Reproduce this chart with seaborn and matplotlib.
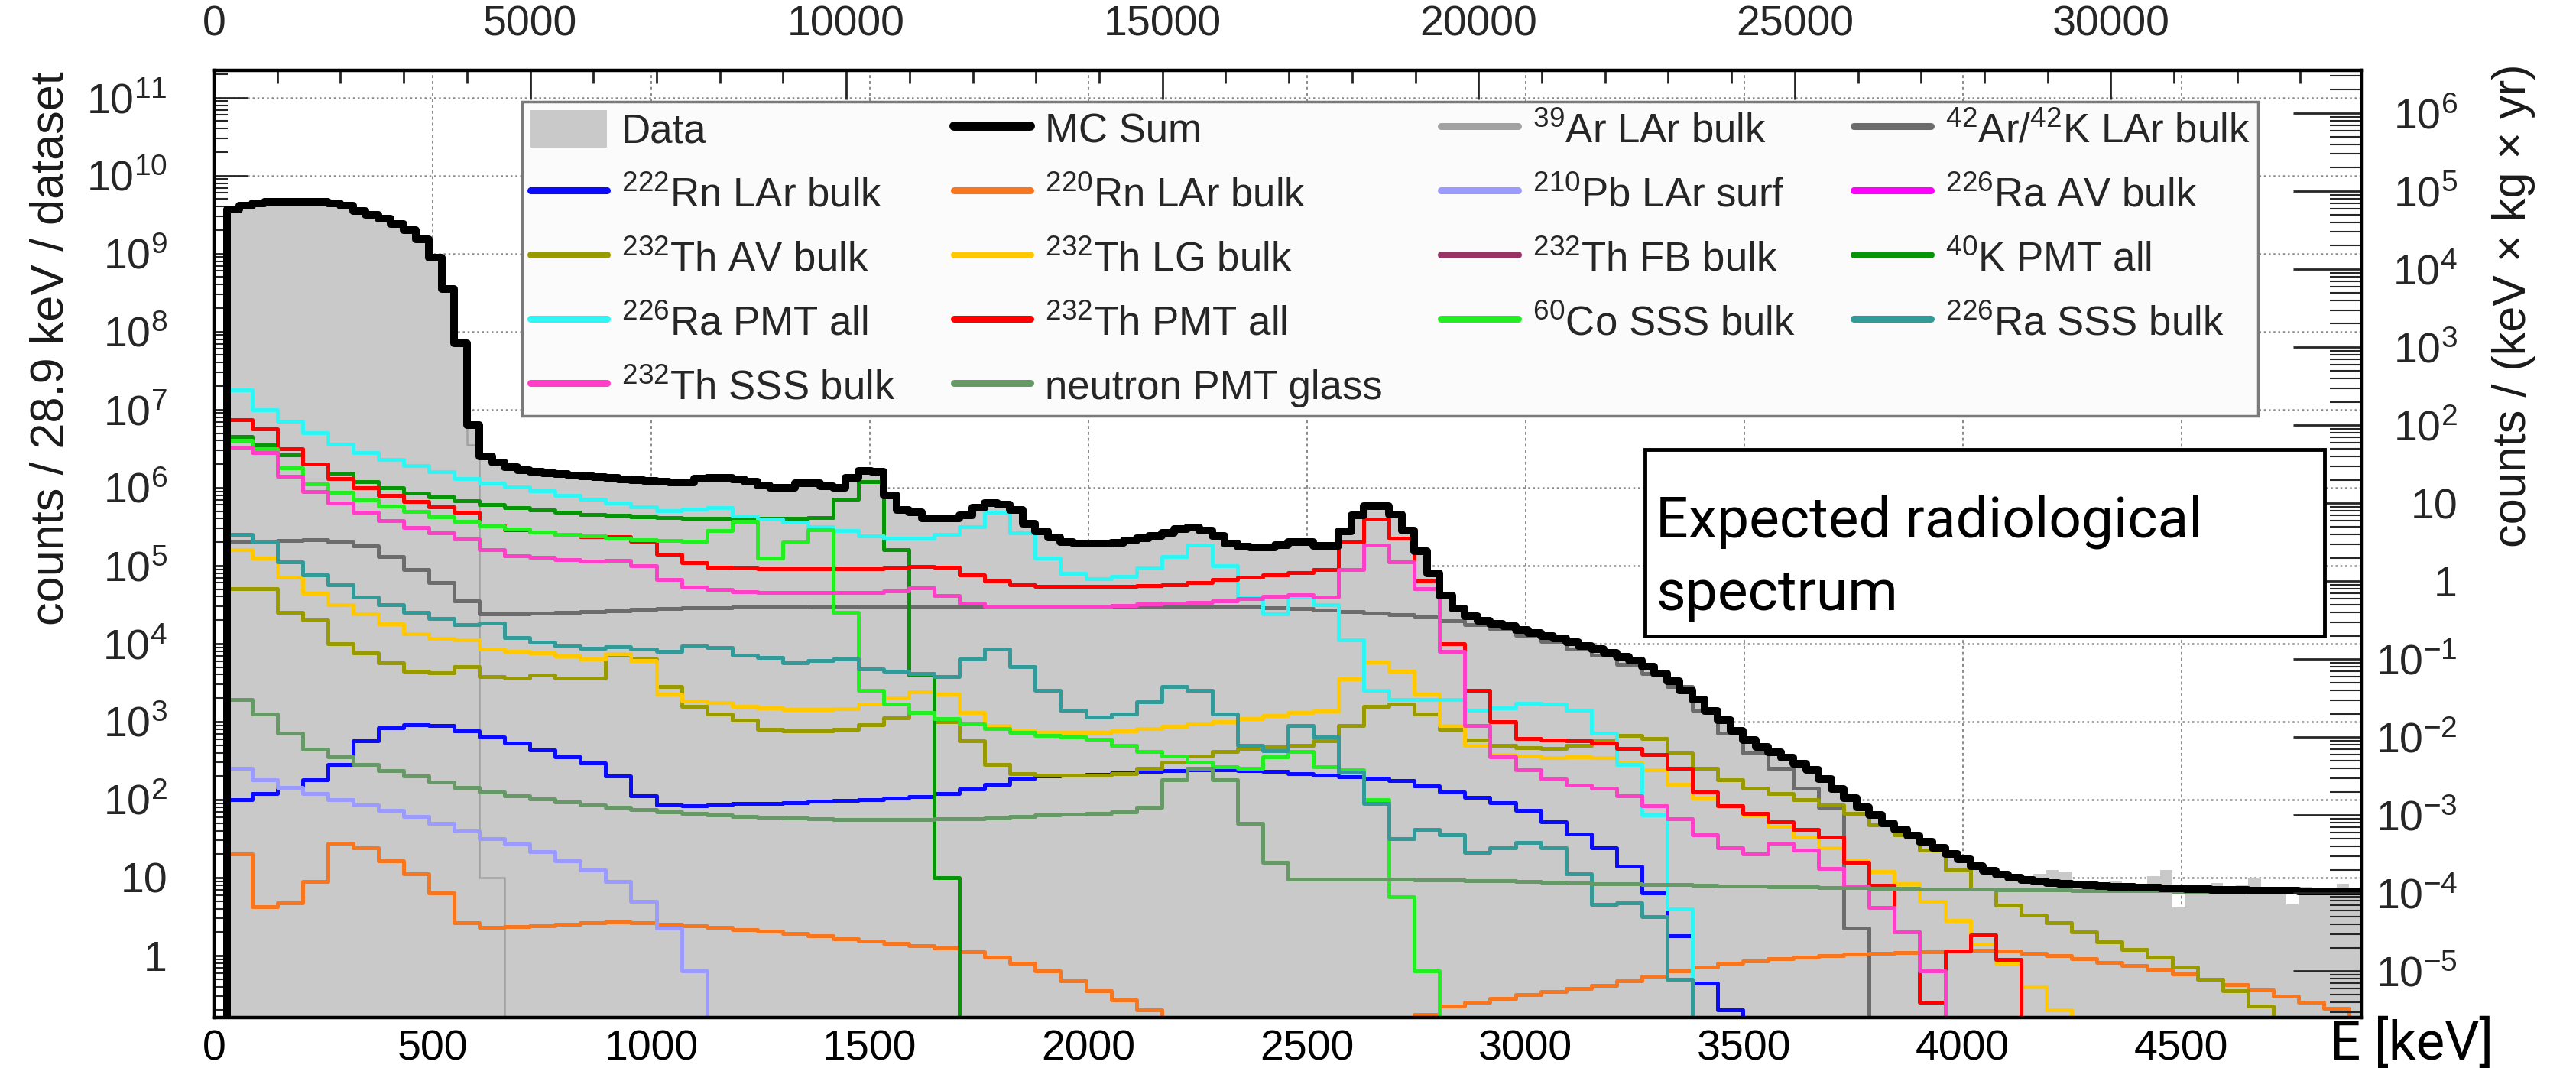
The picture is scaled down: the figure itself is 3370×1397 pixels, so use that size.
import numpy as np
import matplotlib
matplotlib.use("Agg")
import matplotlib.pyplot as plt
import seaborn as sns
from matplotlib.lines import Line2D
from matplotlib.patches import Patch, Rectangle
from matplotlib.ticker import (MultipleLocator, LogLocator, FixedLocator,
                               FuncFormatter, NullFormatter)

# ---------------------------------------------------------------- binning
E_MAX = 4913.0
# fine binning: 28.9 keV (first bin 0-28.9 keV is below threshold)
edges_fine = 28.9 * np.arange(171)
centers_fine = 0.5 * (edges_fine[:-1] + edges_fine[1:])
# coarse binning for the components: 57.8 keV starting at 28.9 keV
edges_coarse = np.concatenate([[0.0], 28.9 + 57.8 * np.arange(85), [E_MAX]])
centers_coarse = 0.5 * (edges_coarse[:-1] + edges_coarse[1:])

# ---------------------------------------------------------------- data
# log10(counts / 28.9 keV / dataset), bin by bin starting at 28.9 keV
mc_sum = [9.57, 9.62, 9.64, 9.66, 9.66, 9.66, 9.66, 9.66, 9.64, 9.62,
          9.55, 9.50, 9.45, 9.38, 9.30, 9.18, 8.95, 8.55, 7.85, 6.80,
          6.40, 6.32, 6.26, 6.22, 6.20, 6.18, 6.17, 6.16, 6.15, 6.14,
          6.13, 6.11, 6.10, 6.09, 6.08, 6.07, 6.07, 6.12, 6.13, 6.13,
          6.11, 6.08, 6.03, 6.00, 6.00, 6.06, 6.06, 6.02, 6.00, 6.13,
          6.21, 6.20, 5.90, 5.71, 5.68, 5.61, 5.61, 5.61, 5.65, 5.74,
          5.80, 5.78, 5.71, 5.54, 5.44, 5.36, 5.30, 5.28, 5.28, 5.28,
          5.29, 5.32, 5.35, 5.38, 5.42, 5.47, 5.49, 5.45, 5.38, 5.28,
          5.24, 5.23, 5.23, 5.26, 5.30, 5.30, 5.25, 5.25, 5.44, 5.65,
          5.76, 5.76, 5.66, 5.45, 5.18, 4.90, 4.62, 4.45, 4.35, 4.29,
          4.25, 4.22, 4.18, 4.14, 4.10, 4.07, 4.02, 3.97, 3.93, 3.88,
          3.83, 3.78, 3.70, 3.62, 3.52, 3.40, 3.28, 3.14, 3.02, 2.88,
          2.76, 2.68, 2.61, 2.54, 2.46, 2.38, 2.26, 2.14, 2.02, 1.90,
          1.80, 1.70, 1.62, 1.54, 1.46, 1.38, 1.30, 1.23, 1.15, 1.09,
          1.04, 1.00, 0.97, 0.95, 0.93, 0.92, 0.91, 0.90, 0.89, 0.88,
          0.88, 0.87, 0.87, 0.86, 0.86, 0.85, 0.85, 0.84, 0.84, 0.84,
          0.83, 0.83, 0.83, 0.83, 0.82, 0.82, 0.82, 0.82, 0.82]
data_log = [9.57, 9.62, 9.64, 9.66, 9.66, 9.66, 9.66, 9.66, 9.64, 9.62,
            9.55, 9.50, 9.45, 9.38, 9.30, 9.18, 8.95, 8.55, 7.85, 6.80,
            6.40, 6.32, 6.26, 6.22, 6.20, 6.18, 6.17, 6.16, 6.15, 6.14,
            6.13, 6.11, 6.10, 6.09, 6.08, 6.07, 6.07, 6.12, 6.13, 6.13,
            6.11, 6.08, 6.03, 6.00, 6.00, 6.06, 6.06, 6.02, 6.00, 6.13,
            6.21, 6.20, 5.90, 5.71, 5.68, 5.61, 5.61, 5.61, 5.65, 5.74,
            5.80, 5.78, 5.71, 5.54, 5.44, 5.36, 5.30, 5.28, 5.28, 5.28,
            5.29, 5.32, 5.35, 5.38, 5.42, 5.47, 5.49, 5.45, 5.38, 5.28,
            5.24, 5.23, 5.23, 5.26, 5.30, 5.30, 5.25, 5.25, 5.44, 5.65,
            5.76, 5.76, 5.66, 5.45, 5.18, 4.90, 4.62, 4.45, 4.35, 4.29,
            4.25, 4.22, 4.18, 4.14, 4.10, 4.07, 4.02, 3.97, 3.93, 3.88,
            3.83, 3.78, 3.70, 3.62, 3.52, 3.40, 3.28, 3.14, 3.02, 2.88,
            2.76, 2.68, 2.61, 2.54, 2.46, 2.38, 2.26, 2.14, 2.02, 1.90,
            1.80, 1.70, 1.62, 1.54, 1.46, 1.40, 1.31, 1.22, 1.17, 1.08,
            1.06, 1.02, 0.99, 1.05, 1.10, 1.08, 0.93, 0.95, 0.90, 0.96,
            0.93, 0.88, 1.02, 1.10, 0.62, 0.88, 0.86, 0.93, 0.84, 0.90,
            1.00, 0.86, 0.84, 0.66, 0.88, 0.85, 0.83, 0.92, 0.86]
ar39_lar = [9.56, 9.61, 9.63, 9.65, 9.65, 9.65, 9.65, 9.65, 9.63, 9.61,
            9.54, 9.49, 9.44, 9.37, 9.29, 9.17, 8.94, 8.54, 7.84, 6.55,
            1.00, 1.00]

# components, 57.8 keV bins starting at 28.9 keV
ar42_lar = [5.31, 5.31, 5.32, 5.33, 5.30, 5.25, 5.12, 4.95, 4.78, 4.55,
            4.38, 4.38, 4.39, 4.40, 4.41, 4.42, 4.44, 4.45, 4.46, 4.46,
            4.47, 4.47, 4.47, 4.48, 4.48, 4.48, 4.48, 4.48, 4.48, 4.48,
            4.48, 4.48, 4.48, 4.48, 4.48, 4.48, 4.48, 4.48, 4.48, 4.47,
            4.47, 4.46, 4.45, 4.43, 4.41, 4.39, 4.37, 4.34, 4.29, 4.24,
            4.19, 4.11, 4.03, 3.93, 3.85, 3.73, 3.62, 3.45, 3.15, 2.85,
            2.60, 2.40, 2.15, 1.90, 0.35]
rn222_lar = [2.00, 2.08, 2.16, 2.25, 2.45, 2.75, 2.92, 2.96, 2.95, 2.88,
             2.80, 2.72, 2.64, 2.55, 2.47, 2.30, 2.05, 1.93, 1.92, 1.93,
             1.95, 1.95, 1.96, 1.98, 1.99, 2.00, 2.02, 2.04, 2.08, 2.14,
             2.20, 2.27, 2.30, 2.31, 2.32, 2.34, 2.36, 2.37, 2.38, 2.38,
             2.37, 2.36, 2.33, 2.31, 2.29, 2.27, 2.24, 2.18, 2.10, 2.03,
             1.96, 1.86, 1.72, 1.56, 1.38, 1.15, 0.80, 0.25, -0.35, -0.70]
rn220_lar = [1.30, 0.63, 0.68, 0.95, 1.44, 1.38, 1.22, 1.05, 0.80, 0.42,
             0.36, 0.37, 0.38, 0.40, 0.42, 0.43, 0.42, 0.40, 0.38, 0.36,
             0.33, 0.31, 0.28, 0.25, 0.22, 0.19, 0.16, 0.13, 0.10, 0.05,
             -0.02, -0.10, -0.20, -0.32, -0.45, -0.57, -0.70, -0.90, -1.10, -1.30,
             -1.50, -1.60, -1.50, -1.30, -1.10, -0.95, -0.85, -0.75, -0.65, -0.60,
             -0.55, -0.50, -0.46, -0.42, -0.38, -0.32, -0.26, -0.20, -0.15, -0.10,
             -0.07, -0.04, -0.02, 0.00, 0.02, 0.03, 0.04, 0.05, 0.06, 0.07,
             0.06, 0.03, 0.00, -0.04, -0.09, -0.13, -0.18, -0.24, -0.30, -0.37,
             -0.44, -0.52, -0.60, -0.68, -0.80]
pb210_lar_surf = [2.40, 2.25, 2.16, 2.08, 2.00, 1.93, 1.86, 1.78, 1.70, 1.60,
                  1.50, 1.43, 1.33, 1.22, 1.10, 0.95, 0.70, 0.35, -0.20, -0.80]
ra226_av = [None, None, None, None, None]
th232_av = [4.70, 4.70, 4.40, 4.30, 4.00, 3.88, 3.75, 3.65, 3.63, 3.70,
            3.58, 3.56, 3.60, 3.56, 3.56, 3.86, 3.80, 3.45, 3.20, 3.10,
            3.02, 2.90, 2.88, 2.88, 2.90, 2.96, 3.05, 3.12, 3.00, 2.75,
            2.45, 2.33, 2.31, 2.31, 2.31, 2.33, 2.40, 2.48, 2.56, 2.62,
            2.66, 2.68, 2.70, 2.75, 2.95, 3.20, 3.22, 3.10, 2.90, 2.76,
            2.70, 2.67, 2.66, 2.70, 2.75, 2.82, 2.78, 2.60, 2.40, 2.25,
            2.15, 2.08, 2.00, 1.93, 1.82, 1.68, 1.55, 1.35, 1.10, 0.85,
            0.65, 0.52, 0.42, 0.30, 0.18, 0.08, -0.02, -0.15, -0.30, -0.45,
            -0.65]
th232_lg = [5.20, 5.10, 4.85, 4.65, 4.50, 4.38, 4.25, 4.13, 4.07, 4.05,
            3.93, 3.90, 3.88, 3.84, 3.80, 3.87, 3.78, 3.35, 3.26, 3.24,
            3.20, 3.18, 3.16, 3.16, 3.17, 3.22, 3.30, 3.38, 3.35, 3.12,
            2.95, 2.88, 2.86, 2.86, 2.86, 2.88, 2.91, 2.94, 2.97, 3.00,
            3.04, 3.08, 3.12, 3.14, 3.55, 3.76, 3.65, 3.35, 2.95, 2.70,
            2.58, 2.56, 2.54, 2.55, 2.54, 2.48, 2.38, 2.20, 2.02, 1.92,
            1.80, 1.66, 1.52, 1.38, 1.22, 1.08, 0.92, 0.70, 0.45, 0.15,
            -0.10, -0.40, -0.70]
th232_fb = [None, None, None, None, None]
k40_pmt = [6.66, 6.55, 6.42, 6.30, 6.18, 6.08, 6.00, 5.93, 5.88, 5.83,
           5.78, 5.74, 5.71, 5.68, 5.66, 5.65, 5.63, 5.62, 5.61, 5.61,
           5.61, 5.61, 5.61, 5.62, 5.85, 6.08, 5.20, 3.60, 1.00]
ra226_pmt = [7.25, 7.00, 6.85, 6.70, 6.56, 6.45, 6.36, 6.28, 6.20, 6.12,
             6.06, 6.01, 5.96, 5.90, 5.85, 5.80, 5.75, 5.70, 5.72, 5.74,
             5.64, 5.60, 5.56, 5.50, 5.45, 5.38, 5.35, 5.35, 5.40, 5.50,
             5.68, 5.42, 5.10, 4.90, 4.83, 4.86, 4.97, 5.12, 5.26, 5.00,
             4.60, 4.38, 4.60, 4.50, 4.05, 3.40, 3.28, 3.28, 3.28, 3.15,
             3.18, 3.23, 3.22, 3.15, 2.85, 2.45, 1.80, 0.60]
th232_pmt = [6.87, 6.75, 6.50, 6.30, 6.12, 6.00, 5.90, 5.82, 5.75, 5.68,
             5.52, 5.46, 5.43, 5.40, 5.37, 5.37, 5.31, 5.15, 5.04, 4.98,
             4.97, 4.96, 4.96, 4.96, 4.96, 4.96, 4.97, 4.99, 4.98, 4.88,
             4.80, 4.75, 4.73, 4.73, 4.73, 4.73, 4.74, 4.75, 4.78, 4.82,
             4.85, 4.88, 4.91, 4.95, 5.30, 5.60, 5.35, 4.80, 4.00, 3.40,
             3.00, 2.78, 2.76, 2.75, 2.72, 2.66, 2.58, 2.40, 2.10, 1.92,
             1.82, 1.72, 1.62, 1.52, 1.20, 0.90, 0.30, -0.60, 0.06, 0.26,
             -0.05]
co60_sss = [6.61, 6.50, 6.25, 6.05, 5.94, 5.84, 5.76, 5.69, 5.63, 5.57,
            5.51, 5.47, 5.43, 5.40, 5.38, 5.35, 5.33, 5.32, 5.31, 5.45,
            5.57, 5.10, 5.30, 5.46, 4.40, 3.40, 3.22, 3.12, 3.04, 2.97,
            2.91, 2.86, 2.82, 2.80, 2.77, 2.70, 2.62, 2.56, 2.48, 2.42,
            2.40, 2.55, 2.62, 2.42, 2.38, 2.00, 0.75, -0.20]
ra226_sss = [5.40, 5.30, 5.05, 4.88, 4.75, 4.60, 4.50, 4.40, 4.32, 4.24,
             4.26, 4.08, 4.02, 3.97, 3.94, 3.96, 3.93, 3.90, 3.97, 3.95,
             3.85, 3.82, 3.75, 3.78, 3.80, 3.68, 3.65, 3.62, 3.58, 3.80,
             3.93, 3.70, 3.40, 3.15, 3.06, 3.10, 3.25, 3.45, 3.40, 3.10,
             2.70, 2.63, 2.95, 2.80, 2.35, 1.95, 1.50, 1.62, 1.55, 1.32,
             1.38, 1.45, 1.38, 1.05, 0.66, 0.68, 0.50, -0.30]
th232_sss = [6.52, 6.45, 6.15, 5.95, 5.80, 5.68, 5.58, 5.49, 5.42, 5.34,
             5.20, 5.13, 5.11, 5.08, 5.06, 5.07, 5.00, 4.82, 4.72, 4.69,
             4.67, 4.66, 4.66, 4.66, 4.66, 4.66, 4.68, 4.71, 4.62, 4.52,
             4.48, 4.48, 4.48, 4.48, 4.48, 4.49, 4.51, 4.52, 4.53, 4.55,
             4.58, 4.61, 4.63, 4.60, 4.95, 5.26, 5.05, 4.70, 3.90, 2.95,
             2.55, 2.38, 2.26, 2.19, 2.15, 2.05, 1.92, 1.75, 1.55, 1.38,
             1.30, 1.44, 1.35, 1.12, 0.88, 0.62, 0.30, -0.20]
neutron_pmt = [3.28, 3.10, 2.85, 2.65, 2.55, 2.45, 2.37, 2.30, 2.22, 2.16,
               2.10, 2.05, 2.01, 1.97, 1.93, 1.90, 1.87, 1.84, 1.82, 1.80,
               1.78, 1.77, 1.76, 1.75, 1.74, 1.74, 1.74, 1.74, 1.75, 1.75,
               1.76, 1.78, 1.80, 1.81, 1.82, 1.84, 1.90, 2.25, 2.40, 2.25,
               1.70, 1.20, 0.98, 0.98, 0.98, 0.98, 0.98, 0.97, 0.97, 0.96,
               0.96, 0.95, 0.94, 0.93, 0.92, 0.92, 0.91, 0.91, 0.90, 0.89,
               0.89, 0.88, 0.88, 0.87, 0.87, 0.86, 0.86, 0.85, 0.85, 0.85,
               0.84, 0.84, 0.84, 0.83, 0.83, 0.83, 0.83, 0.82, 0.82, 0.82,
               0.82, 0.82, 0.81, 0.81, 0.81]

labels = {
    "data": "Data", "mc": "MC Sum",
    "ar39": r"$^{39}$Ar LAr bulk", "ar42": r"$^{42}$Ar/$^{42}$K LAr bulk",
    "rn222": r"$^{222}$Rn LAr bulk", "rn220": r"$^{220}$Rn LAr bulk",
    "pb210": r"$^{210}$Pb LAr surf", "ra226av": r"$^{226}$Ra AV bulk",
    "th232av": r"$^{232}$Th AV bulk", "th232lg": r"$^{232}$Th LG bulk",
    "th232fb": r"$^{232}$Th FB bulk", "k40": r"$^{40}$K PMT all",
    "ra226pmt": r"$^{226}$Ra PMT all", "th232pmt": r"$^{232}$Th PMT all",
    "co60": r"$^{60}$Co SSS bulk", "ra226sss": r"$^{226}$Ra SSS bulk",
    "th232sss": r"$^{232}$Th SSS bulk", "neutron": "neutron PMT glass",
}
colors = {
    "data": "#c9c9c9", "mc": "#000000", "ar39": "#a2a2a2", "ar42": "#6c6c6c",
    "rn222": "#0a0aff", "rn220": "#f7761e", "pb210": "#9a9aff",
    "ra226av": "#ff00ff", "th232av": "#999900", "th232lg": "#ffc800",
    "th232fb": "#993366", "k40": "#079407", "ra226pmt": "#2ff5f5",
    "th232pmt": "#ff0000", "co60": "#22ee22", "ra226sss": "#339a9a",
    "th232sss": "#ff3fc8", "neutron": "#669966",
}
coarse_series = {
    "ar42": ar42_lar, "rn222": rn222_lar, "rn220": rn220_lar,
    "pb210": pb210_lar_surf, "ra226av": ra226_av, "th232av": th232_av,
    "th232lg": th232_lg, "th232fb": th232_fb, "k40": k40_pmt,
    "ra226pmt": ra226_pmt, "th232pmt": th232_pmt, "co60": co60_sss,
    "ra226sss": ra226_sss, "th232sss": th232_sss, "neutron": neutron_pmt,
}

Y_LO, Y_HI = 10 ** -0.794, 10 ** 11.35
RIGHT_FACTOR = 10 ** -4.80        # counts/(keV x kg x yr) per count/28.9keV/dataset
TOP_FACTOR = 6.915                # top-axis units per keV


def to_counts(logvals, n):
    c = np.zeros(n)
    for i, v in enumerate(logvals):
        if v is not None:
            c[i + 1] = 10.0 ** v
    return c


def draw_hist(logvals, fine, **kw):
    cen, edg = (centers_fine, edges_fine) if fine else (centers_coarse, edges_coarse)
    sns.histplot(x=list(cen), weights=list(to_counts(logvals, len(cen))),
                 bins=[float(e) for e in edg], element="step", ax=ax, **kw)


# ---------------------------------------------------------------- style
sns.set_theme(style="white")
plt.rcParams["font.family"] = ["Liberation Sans", "DejaVu Sans"]
plt.rcParams["mathtext.fontset"] = "custom"
plt.rcParams["mathtext.rm"] = "Liberation Sans"
plt.rcParams["mathtext.it"] = "Liberation Sans:italic"
plt.rcParams["mathtext.bf"] = "Liberation Sans:bold"

W, H = 3370, 1397
fig = plt.figure(figsize=(W / 100, H / 100), dpi=100)
fig.patch.set_facecolor("white")
ax = fig.add_axes([280 / W, 1 - 1331 / H, 2810 / W, 1239 / H])
ax.set_yscale("log")
ax.set_facecolor("white")

# data (filled)
draw_hist(data_log, True, fill=True, color=colors["data"], alpha=1.0,
          linewidth=0, zorder=1)
# components
draw_hist(ar39_lar, True, fill=False, color=colors["ar39"], linewidth=1.8,
          zorder=2)
for key, vals in coarse_series.items():
    draw_hist(vals, False, fill=False, color=colors[key], linewidth=3.6,
              zorder=2)
# MC sum
draw_hist(mc_sum, True, fill=False, color=colors["mc"], linewidth=7.2, zorder=3)

ax.set_xlabel("")
ax.set_ylabel("")
ax.set_xlim(0, E_MAX)
ax.set_ylim(Y_LO, Y_HI)

# grid
ax.set_axisbelow(True)
ax.grid(True, which="major", axis="x", color="#8a8a8a",
        linestyle=(0, (2.0, 2.0)), linewidth=1.4)
ax.grid(True, which="major", axis="y", color="#8a8a8a",
        linestyle=(0, (1.0, 1.5)), linewidth=1.8)


def pow_fmt(v, pos):
    n = int(round(np.log10(v)))
    if n == 0:
        return "1"
    if n == 1:
        return "10"
    return r"$10^{%d}$" % n


# bottom x axis
ax.xaxis.set_major_locator(MultipleLocator(500))
ax.xaxis.set_minor_locator(MultipleLocator(100))
ax.xaxis.set_major_formatter(FuncFormatter(lambda v, p: "%d" % v))
ax.tick_params(axis="x", which="major", direction="in", length=26, width=2,
               labelsize=40, pad=11, top=False, bottom=True, colors="black")
ax.tick_params(axis="x", which="minor", direction="in", length=13, width=2,
               top=False, bottom=True)
# left y axis
ax.yaxis.set_major_locator(FixedLocator([10.0 ** k for k in range(0, 12)]))
ax.yaxis.set_minor_locator(LogLocator(base=10, subs=np.arange(2, 10) * 1.0,
                                      numticks=200))
ax.yaxis.set_major_formatter(FuncFormatter(pow_fmt))
ax.yaxis.set_minor_formatter(NullFormatter())
ax.tick_params(axis="y", which="major", direction="in", length=32, width=2,
               labelsize=40, pad=44, right=False, left=True)
ax.tick_params(axis="y", which="minor", direction="in", length=13, width=1.5,
               right=False, left=True)

# top axis
ax_t = ax.twiny()
ax_t.set_xlim(0, E_MAX * TOP_FACTOR)
ax_t.xaxis.set_major_locator(MultipleLocator(5000))
ax_t.xaxis.set_minor_locator(MultipleLocator(1000))
ax_t.xaxis.set_major_formatter(FuncFormatter(lambda v, p: "%d" % v))
ax_t.tick_params(axis="x", which="major", direction="in", length=27, width=2,
                 labelsize=40, pad=24, top=True, labeltop=True, bottom=False)
ax_t.tick_params(axis="x", which="minor", direction="in", length=12, width=2,
                 top=True, bottom=False)

# right axis
ax_r = ax.twinx()
ax_r.set_yscale("log")
ax_r.set_ylim(Y_LO * RIGHT_FACTOR, Y_HI * RIGHT_FACTOR)
ax_r.yaxis.set_major_locator(FixedLocator([10.0 ** k for k in range(-5, 7)]))
ax_r.yaxis.set_minor_locator(LogLocator(base=10, subs=np.arange(2, 10) * 1.0,
                                        numticks=200))
ax_r.yaxis.set_major_formatter(FuncFormatter(pow_fmt))
ax_r.yaxis.set_minor_formatter(NullFormatter())
ax_r.tick_params(axis="y", which="major", direction="in", length=65, width=2,
                 labelsize=40, pad=90, right=True, left=False)
ax_r.tick_params(axis="y", which="minor", direction="in", length=30, width=1.5,
                 right=True, left=False)
for t in ax_r.yaxis.get_major_ticks():
    t.label2.set_horizontalalignment("right")

for a in (ax, ax_t, ax_r):
    for s in a.spines.values():
        s.set_linewidth(3)
        s.set_color("black")

# legend (row-major in the reference -> column-major handles here)
def line_handle(key):
    lw = 8.6 if key == "mc" else 6.5
    return Line2D([0], [0], color=colors[key], lw=lw)

order = ["data", "rn222", "th232av", "ra226pmt", "th232sss",
         "mc", "rn220", "th232lg", "th232pmt", "neutron",
         "ar39", "pb210", "th232fb", "co60",
         "ar42", "ra226av", "k40", "ra226sss"]
handles = [Patch(facecolor=colors["data"], edgecolor="none") if k == "data"
           else line_handle(k) for k in order]
leg = ax.legend(handles, [labels[k] for k in order], ncol=4,
                loc="upper left", bbox_to_anchor=((683 - 280) / 2810, (1331 - 133) / 1239),
                borderaxespad=0, fontsize=38, frameon=True, fancybox=False,
                framealpha=1.0, handlelength=1.9, handleheight=1.05,
                handletextpad=0.36, columnspacing=1.45, labelspacing=0.58,
                borderpad=0.2)
leg.get_frame().set_facecolor("#fbfbfb")
leg.get_frame().set_edgecolor("#7a7a7a")
leg.get_frame().set_linewidth(2.5)
leg.set_zorder(10)

# axis titles
fig.text(67 / W, 1 - 456 / H, "counts / 28.9 keV / dataset", rotation=90,
         ha="center", va="center", fontsize=44, color="#1a1a1a")
fig.text(3288 / W, 1 - 400 / H, "counts / (keV \u00d7 kg \u00d7 yr)", rotation=90,
         ha="center", va="center", fontsize=44, color="#1a1a1a")
fig.text(3262 / W, 1 - 1386 / H, "E [keV]", ha="right", va="baseline",
         fontsize=51, family=["Roboto", "DejaVu Sans"], color="black")

# annotation box
box = Rectangle((2152 / W, 1 - 832 / H), (3041 - 2152) / W, (832 - 588) / H,
                transform=fig.transFigure, facecolor="white", edgecolor="black",
                linewidth=3.5, zorder=20)
fig.add_artist(box)
fig.text(2166 / W, 1 - 702 / H, "Expected radiological", ha="left",
         va="baseline", fontsize=54, family=["Roboto", "DejaVu Sans"],
         color="black", zorder=21)
fig.text(2166 / W, 1 - 798 / H, "spectrum", ha="left", va="baseline",
         fontsize=54, family=["Roboto", "DejaVu Sans"], color="black",
         zorder=21)

fig.savefig("out.png", dpi=100, facecolor="white")
